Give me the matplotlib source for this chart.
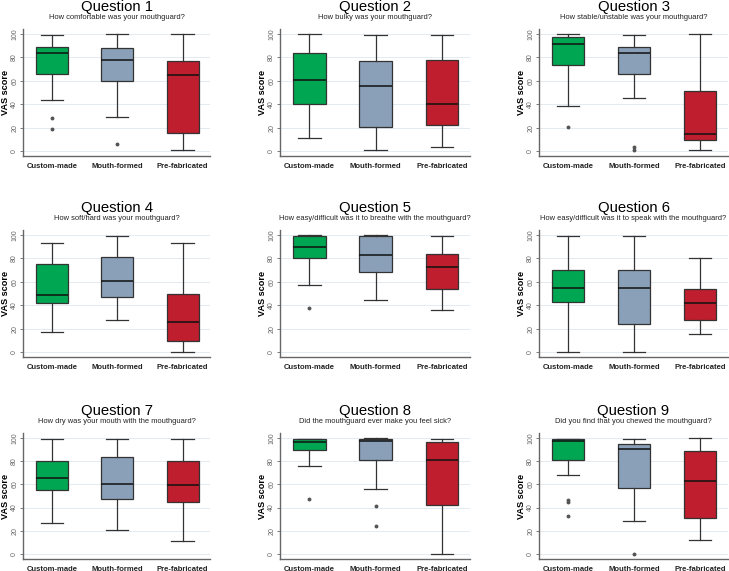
import matplotlib
matplotlib.use("Agg")
import matplotlib.pyplot as plt

plt.rcParams['font.family'] = ['Liberation Sans', 'DejaVu Sans']

groups = ["Custom-made", "Mouth-formed", "Pre-fabricated"]
colors = ["#00a651", "#8aa0b8", "#be1e2d"]

titles = ["Question %d" % i for i in range(1, 10)]
subtitles = [
    "How comfortable was your mouthguard?",
    "How bulky was your mouthguard?",
    "How stable/unstable was your mouthguard?",
    "How soft/hard was your mouthguard?",
    "How easy/difficult was it to breathe with the mouthguard?",
    "How easy/difficult was it to speak with the mouthguard?",
    "How dry was your mouth with the mouthguard?",
    "Did the mouthguard ever make you feel sick?",
    "Did you find that you chewed the mouthguard?",
]

# per question: [custom, mouth, pre]
whisker_lo = [[43.7, 29, 1], [11.4, 1, 3.1], [38.3, 44.9, 1],
              [17, 27.4, 0], [57.5, 44.4, 35.6], [0, 0, 15],
              [26.4, 20.3, 11.5], [75.4, 55.9, 0], [68, 28.7, 12.3]]
q1 = [[66, 60, 15], [40.6, 20.9, 22.3], [73.7, 66, 9.1],
      [42, 46.9, 9.7], [80.6, 68.4, 53.8], [42.4, 24.2, 27.7],
      [54.7, 47.3, 45], [89.7, 81.1, 42.1], [81.1, 57, 30.7]]
median = [[83.4, 77.4, 64.6], [61, 55.4, 40.6], [91.4, 83.4, 14.9],
          [49, 60.3, 25.4], [89.7, 82.9, 72.4], [54.5, 54.5, 42.1],
          [65.6, 60.2, 59.6], [96.3, 97.1, 81.1], [97.1, 90.3, 63.3]]
q3 = [[89.1, 88.3, 77], [84, 76.6, 77.7], [97, 89, 51.7],
      [74.9, 80.9, 50], [98.9, 98.9, 83.8], [69.7, 69.7, 53.9],
      [80.2, 83.7, 79.7], [99.4, 99.1, 96.8], [99.4, 95.1, 89.1]]
whisker_hi = [[99.1, 100, 100], [100, 99, 99], [100, 99, 100],
              [93.4, 99.4, 93.4], [100, 100, 99.1], [99.4, 99.4, 80.7],
              [99.4, 99.4, 99.4], [99.4, 100, 99.1], [99.4, 99.4, 100]]
outliers = [[[28, 19], [6.3], []], [[], [], []], [[20.6], [3.4, 1.1], []],
            [[], [], []], [[37.3], [], []], [[], [], []],
            [[], [], []], [[47.6], [41.3, 24.1], []], [[46.7, 45, 33], [0], []]]

W, H = 729, 571
fig = plt.figure(figsize=(W / 100, H / 100), dpi=100)

# panel edges in pixels (left, right) / (top, bottom)
cols = [(23, 210), (280, 470), (539, 728)]
rows = [(29.3, 155.7), (230.3, 356.7), (433.3, 558.6)]

for k in range(9):
    r, c = divmod(k, 3)
    x0, x1 = cols[c]
    y0, y1 = rows[r]
    ax = fig.add_axes([x0 / W, 1 - y1 / H, (x1 - x0) / W, (y1 - y0) / H])

    stats = []
    for g in range(3):
        stats.append(dict(whislo=whisker_lo[k][g], q1=q1[k][g], med=median[k][g],
                          q3=q3[k][g], whishi=whisker_hi[k][g],
                          fliers=outliers[k][g], label=groups[g]))
    bp = ax.bxp(stats, positions=[1, 2, 3], widths=0.49, capwidths=0.34,
                patch_artist=True, showfliers=True,
                boxprops=dict(edgecolor="#333333", linewidth=0.9),
                whiskerprops=dict(color="#333333", linewidth=0.9),
                capprops=dict(color="#333333", linewidth=0.9),
                medianprops=dict(color="#111111", linewidth=1.1),
                flierprops=dict(marker="o", markersize=1.8, markerfacecolor="#555555",
                                markeredgecolor="#555555"))
    for patch, col in zip(bp["boxes"], colors):
        patch.set_facecolor(col)

    ax.set_xlim(0.56, 3.42)
    ax.set_ylim(-4, 104)
    ax.set_yticks([0, 20, 40, 60, 80, 100])
    ax.set_yticklabels(["0", "20", "40", "60", "80", "100"], rotation=90,
                       va="center", fontsize=5, color="#666666")
    ax.set_xticks([1, 2, 3])
    ax.set_xticklabels(groups, fontsize=5.5, fontweight="bold", color="#222222")
    ax.tick_params(axis="x", length=0, pad=5)
    ax.tick_params(axis="y", length=2, width=0.6, color="#666666", pad=1.5)
    ax.grid(axis="y", color="#e4ebf0", linewidth=0.7)
    ax.set_axisbelow(True)
    for s in ["top", "right"]:
        ax.spines[s].set_visible(False)
    for s in ["left", "bottom"]:
        ax.spines[s].set_color("#666666")
        ax.spines[s].set_linewidth(1.0)
    ax.set_ylabel("VAS score", fontsize=6.6, fontweight="bold", labelpad=0.5)

    ax.annotate(titles[k], xy=(0.5, 1), xycoords="axes fraction",
                xytext=(0, 22), textcoords="offset pixels",
                ha="center", va="center", fontsize=10.7)
    ax.annotate(subtitles[k], xy=(0.5, 1), xycoords="axes fraction",
                xytext=(0, 12), textcoords="offset pixels",
                ha="center", va="center", fontsize=5.4, color="#222222")

fig.savefig("out.png", dpi=100)
